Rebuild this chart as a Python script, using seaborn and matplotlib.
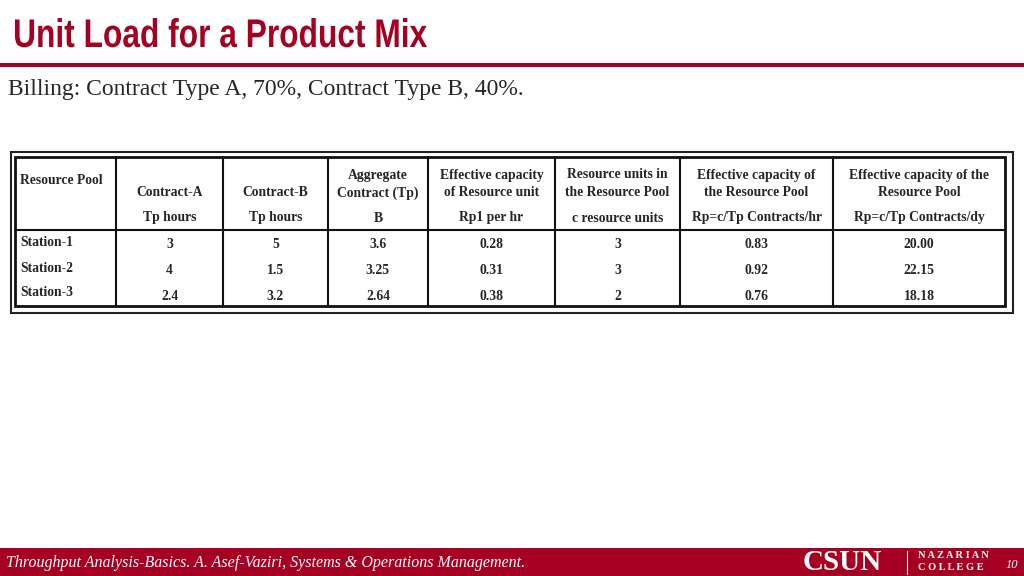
import matplotlib.pyplot as plt
import seaborn as sns
from matplotlib.patches import Rectangle, PathPatch
from matplotlib.textpath import TextPath
from matplotlib.font_manager import FontProperties
from matplotlib.transforms import Affine2D

sns.set_style("white")

# table data
stations = ["Station-1", "Station-2", "Station-3"]
contract_a = ["3", "4", "2.4"]
contract_b = ["5", "1.5", "3.2"]
aggregate = ["3.6", "3.25", "2.64"]
rp1 = ["0.28", "0.31", "0.38"]
units = ["3", "3", "2"]
rp_hr = ["0.83", "0.92", "0.76"]
rp_dy = ["20.00", "22.15", "18.18"]

headers = [
    ["", "Contract-A", "Tp hours"],
    ["", "Contract-B", "Tp hours"],
    ["Aggregate", "Contract (Tp)", "B"],
    ["Effective capacity", "of Resource unit", "Rp1 per hr"],
    ["Resource units in", "the Resource Pool", "c resource units"],
    ["Effective capacity of", "the Resource Pool", "Rp=c/Tp Contracts/hr"],
    ["Effective capacity of the", "Resource Pool", "Rp=c/Tp Contracts/dy"],
]

RED = "#A50021"
fig = plt.figure(figsize=(10.24, 5.76), dpi=100)
ax = fig.add_axes([0, 0, 1, 1])
ax.set_xlim(0, 1024)
ax.set_ylim(576, 0)
ax.axis("off")

# condensed title: squeeze a bold sans path horizontally
tp = TextPath((0, 0), "Unit Load for a Product Mix", size=40,
              prop=FontProperties(family="Liberation Sans", weight="bold"))
bb = tp.get_extents()
sx = 412 / bb.width
tp = Affine2D().scale(sx, -1).translate(15 - bb.x0 * sx, 47).transform_path(tp)
ax.add_patch(PathPatch(tp, color=RED, lw=0))

ax.add_patch(Rectangle((0, 63), 1024, 3.5, color=RED, lw=0))
ax.text(8, 90, "Billing: Contract Type A, 70%, Contract Type B, 40%.", fontsize=17,
        family="Liberation Serif", va="center")

# footer
ax.add_patch(Rectangle((0, 548), 1024, 28, color=RED, lw=0))
ax.text(6, 563, "Throughput Analysis-Basics. A. Asef-Vaziri, Systems & Operations Management.",
        color="white", fontsize=11.5, style="italic", family="Liberation Serif", va="center")
ax.text(842, 562, "CSUN", color="white", fontsize=21, fontweight="bold",
        family="Liberation Serif", ha="center", va="center")
ax.plot([907, 907], [551, 574], color="white", lw=0.8)
ax.text(918, 555, "N A Z A R I A N", color="white", fontsize=7.5, family="Liberation Serif",
        fontweight="bold", va="center")
ax.text(918, 567, "C O L L E G E", color="white", fontsize=7.5, family="Liberation Serif",
        fontweight="bold", va="center")
ax.text(1006, 565, "10", color="white", fontsize=9, style="italic", family="Liberation Serif",
        va="center")

# table frame
ax.add_patch(Rectangle((11, 152), 1002, 161, fill=False, ec="#222222", lw=1.5))
ax.add_patch(Rectangle((15, 157), 990, 149, fill=False, ec="#111111", lw=2))
cols = [15, 116, 223, 328, 428, 555, 680, 833, 1005]
for x in cols[1:-1]:
    ax.plot([x, x], [157, 306], color="#111111", lw=1.5)
ax.plot([15, 1005], [230, 230], color="#111111", lw=1.5)

tf = dict(family="Liberation Serif", fontweight="bold", fontsize=9.8, ha="center", va="center")
ax.text(20, 181, "Resource Pool", **{**tf, "ha": "left"})
for i, h in enumerate(headers):
    cx = (cols[i + 1] + cols[i + 2]) / 2
    for y, t in zip([175, 193, 218], h):
        if t:
            ax.text(cx, y, t, **tf)

row_y = [245, 271, 296]
columns = [contract_a, contract_b, aggregate, rp1, units, rp_hr, rp_dy]
for r, name in enumerate(stations):
    ax.text(20, row_y[r] - 3, name, **{**tf, "ha": "left"})
    for i, col in enumerate(columns):
        cx = (cols[i + 1] + cols[i + 2]) / 2
        ax.text(cx, row_y[r], col[r], **tf)

fig.savefig("out.png", dpi=100)
